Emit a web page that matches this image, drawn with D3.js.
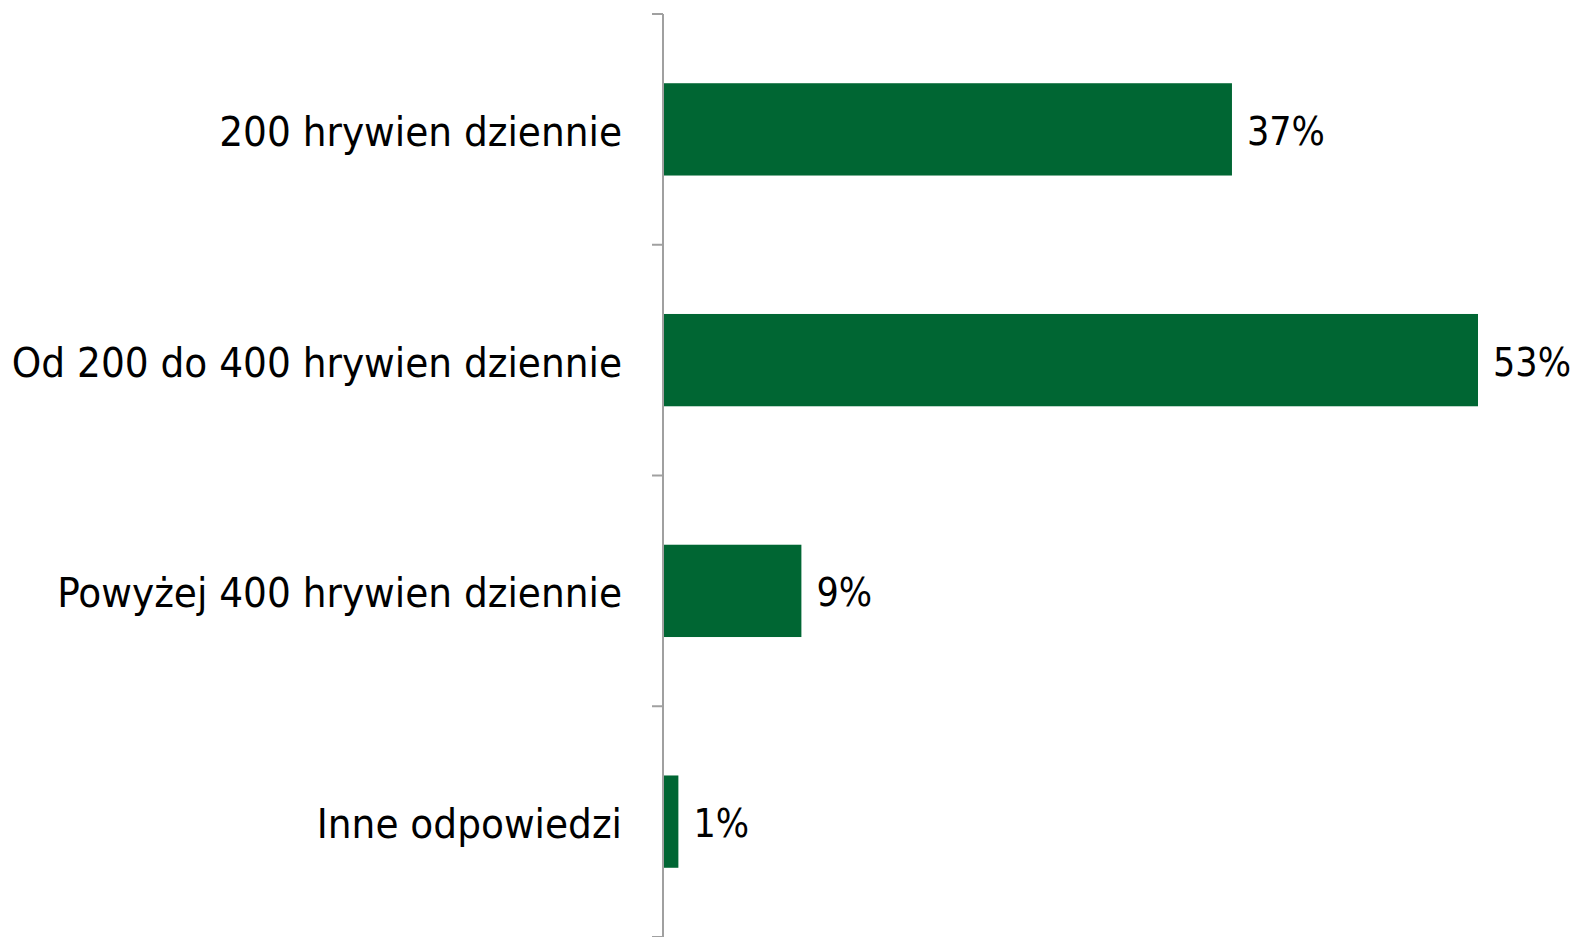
<!DOCTYPE html>
<html><head><meta charset="utf-8">
<script src="https://cdn.jsdelivr.net/npm/d3@7"></script>
<style>body{margin:0;background:#fff}svg{display:block}</style>
</head><body>
<svg id="c" width="1574" height="937"></svg>
<script>
const categories = ["200 hrywien dziennie","Od 200 do 400 hrywien dziennie","Powyżej 400 hrywien dziennie","Inne odpowiedzi"];
const values = [37, 53, 9, 1];
const valueLabels = ["37%","53%","9%","1%"];

(function(){
const svg = d3.select("#c");
const x0 = 663, yTop = 14, yBottom = 937;
const x = d3.scaleLinear().domain([0, 53]).range([x0, 1478]);
const y = d3.scaleBand().domain(categories).range([yTop, yBottom]).paddingInner(0.6).paddingOuter(0.3);
const font = "'DejaVu Sans Condensed', 'DejaVu Sans', sans-serif";

svg.selectAll("rect.bar").data(values).enter().append("rect")
  .attr("x", x(0)).attr("y", (d,i)=>y(categories[i]))
  .attr("width", d=>x(d)-x(0)).attr("height", y.bandwidth())
  .attr("fill", "#006633");

const step = (yBottom-yTop)/categories.length;
const ticks = d3.range(categories.length+1).map(i=>yTop+i*step);
svg.append("line").attr("x1",x0).attr("x2",x0).attr("y1",yTop).attr("y2",yBottom)
  .attr("stroke","#a0a0a0").attr("stroke-width",2);
svg.selectAll("line.tick").data(ticks).enter().append("line")
  .attr("x1",x0-11).attr("x2",x0).attr("y1",d=>d).attr("y2",d=>d)
  .attr("stroke","#a0a0a0").attr("stroke-width",2);

svg.selectAll("text.cat").data(categories).enter().append("text")
  .attr("x", 622).attr("y", d=>y(d)+y.bandwidth()/2 + 2)
  .attr("text-anchor","end").attr("dominant-baseline","central")
  .attr("font-family", font).attr("font-size", 41.7).attr("fill","#000")
  .text(d=>d);

svg.selectAll("text.val").data(values).enter().append("text")
  .attr("x", d=>x(d)+15).attr("y", (d,i)=>y(categories[i])+y.bandwidth()/2 + 2)
  .attr("dominant-baseline","central")
  .attr("font-family", font).attr("font-size", 39).attr("fill","#000")
  .text((d,i)=>valueLabels[i]);
})();
</script>
</body></html>
